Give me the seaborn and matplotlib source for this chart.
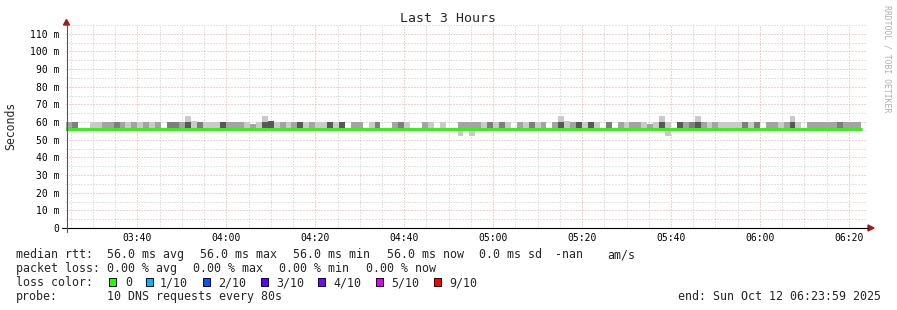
import numpy as np
import pandas as pd
import matplotlib
matplotlib.use("Agg")
import matplotlib.pyplot as plt
import matplotlib.dates as mdates
from matplotlib.lines import Line2D
from matplotlib.patches import Polygon, Rectangle
import seaborn as sns

# ---------------- data ----------------
start_time = "2025-10-12 03:23:59"
end_time = "2025-10-12 06:23:59"
step_seconds = 80
n_steps = 135          # last step not yet measured

# smoke shade level per measured step (0 = all pings equal, 4 = darkest)
smoke_shade = [2, 3, 0, 0, 1, 1, 2, 2, 3, 2,
               1, 2, 1, 2, 1, 2, 0, 3, 3, 2,
               4, 1, 3, 1, 1, 1, 4, 2, 2, 2,
               1, 2, 1, 4, 4, 1, 2, 1, 2, 4,
               1, 2, 1, 1, 4, 1, 4, 0, 2, 2,
               0, 1, 3, 0, 0, 2, 3, 1, 0, 0,
               2, 1, 0, 1, 0, 0, 2, 2, 2, 2,
               1, 3, 1, 3, 1, 0, 2, 1, 3, 1,
               2, 0, 2, 4, 1, 2, 4, 1, 4, 1,
               0, 3, 0, 2, 1, 2, 2, 1, 2, 1,
               4, 1, 0, 4, 2, 3, 4, 2, 1, 2,
               1, 1, 1, 1, 3, 1, 3, 0, 2, 2,
               1, 2, 4, 1, 0, 2, 2, 2, 2, 2,
               3, 2, 2, 2]
median_ms = [56.0] * len(smoke_shade)
smoke_top_ms = 60.0
raised_steps = [21, 34, 84]
raised_top_ms = [60.7, 60.7, 60.7]
lowered_steps = [31, 98]
lowered_top_ms = [59.0, 59.0]
spike_steps = [20, 33, 83, 100, 106, 122]
spike_top_ms = [63.5, 63.5, 63.5, 63.5, 63.5, 63.5]
dip_steps = [66, 68, 101]
dip_bottom_ms = [52.3, 52.3, 52.3]

y_ticks = [0, 10, 20, 30, 40, 50, 60, 70, 80, 90, 100, 110]

loss_labels = ["0", "1/10", "2/10", "3/10", "4/10", "5/10", "9/10"]
loss_colors = ["#26ff00", "#00b8ff", "#0059ff", "#5e00ff", "#7e00ff", "#dd00ff", "#ff0000"]

# ---------------- style ----------------
sns.set_theme(style="white")
plt.rcParams["font.family"] = ["DejaVu Sans Mono", "DejaVu Sans"]
plt.rcParams["lines.scale_dashes"] = False

W, H = 897, 310
fig = plt.figure(figsize=(W / 100, H / 100), dpi=100)
fig.patch.set_facecolor("white")

def fx(x):
    return x / W

def fy(y):
    return 1 - y / H

ax_left, ax_right, ax_bottom, ax_top = 66.2, 866.6, 228.0, 25.0
ax = fig.add_axes([fx(ax_left), fy(ax_bottom), (ax_right - ax_left) / W, (ax_bottom - ax_top) / H])
ax.set_facecolor("white")

t0 = mdates.date2num(pd.Timestamp(start_time))
t1 = mdates.date2num(pd.Timestamp(end_time))
step_d = step_seconds / 86400.0
times = mdates.date2num(pd.date_range(start_time, periods=n_steps, freq=f"{step_seconds}s"))

shade_colors = {1: "#cacaca", 2: "#a4a4a4", 3: "#7e7e7e", 4: "#585858"}
n_meas = len(smoke_shade)
tops = np.full(n_meas, smoke_top_ms)
for s, v in zip(raised_steps, raised_top_ms):
    tops[s] = v
for s, v in zip(lowered_steps, lowered_top_ms):
    tops[s] = v
med = np.array(median_ms)
shade = np.array(smoke_shade)

for lvl, col in shade_colors.items():
    m = shade == lvl
    ax.bar(times[:n_meas][m], tops[m] - med[m], bottom=med[m], width=step_d,
           align="edge", color=col, linewidth=0, zorder=2)

ax.bar(times[spike_steps], np.array(spike_top_ms) - smoke_top_ms, bottom=smoke_top_ms,
       width=step_d, align="edge", color="#cacaca", linewidth=0, zorder=1.9)
ax.bar(times[dip_steps], med[dip_steps] - np.array(dip_bottom_ms), bottom=dip_bottom_ms,
       width=step_d, align="edge", color="#cacaca", linewidth=0, zorder=1.9)

# median line (steps)
line_x = list(times[:n_meas]) + [times[n_meas]]
line_y = list(med) + [med[-1]]
df = pd.DataFrame({"t": line_x, "rtt": line_y})
sns.lineplot(data=df, x="t", y="rtt", ax=ax, drawstyle="steps-post", color="#26ff00",
             linewidth=2.2, estimator=None, zorder=3)

ax.set_xlim(t0, t1)
ax.set_ylim(0, 115)
ax.set_xlabel("")
ax.set_ylabel("")

ax.xaxis.set_major_locator(mdates.MinuteLocator(byminute=[0, 20, 40]))
ax.xaxis.set_minor_locator(mdates.MinuteLocator(byminute=range(0, 60, 5)))
ax.xaxis.set_major_formatter(mdates.DateFormatter("%H:%M"))
ax.set_yticks(y_ticks)
ax.set_yticks(np.arange(5, 116, 5), minor=True)
ax.set_yticklabels(["0" if v == 0 else f"{v} m" for v in y_ticks])

dot = (0, (0.72, 1.44))
ax.grid(which="major", color="#f2a0a0", linestyle=dot, linewidth=0.72, zorder=0)
ax.grid(which="minor", color="#c8c8c8", linestyle=dot, linewidth=0.72, zorder=0)
ax.set_axisbelow(True)
ax.tick_params(which="both", length=0)
ax.tick_params(axis="y", labelsize=7, pad=5, colors="black")
ax.tick_params(axis="x", labelsize=7, pad=3.6, colors="black")
for sp in ax.spines.values():
    sp.set_visible(False)

# axis lines and arrows (figure pixel coords)
fig.add_artist(Line2D([fx(62), fx(868)], [fy(228), fy(228)], color="black", lw=0.8))
fig.add_artist(Line2D([fx(66.5), fx(66.5)], [fy(232), fy(24)], color="#555555", lw=0.8))
arrow_col = "#a01c1c"
fig.add_artist(Polygon([[fx(63.5), fy(25)], [fx(69.5), fy(25)], [fx(66.5), fy(19.5)]],
                       closed=True, color=arrow_col, transform=fig.transFigure))
fig.add_artist(Polygon([[fx(868), fy(225)], [fx(868), fy(231)], [fx(874), fy(228)]],
                       closed=True, color=arrow_col, transform=fig.transFigure))

# texts
fig.text(fx(448), fy(19), "Last 3 Hours", ha="center", va="center", fontsize=9.5)
fig.text(fx(11), fy(126), "Seconds", ha="center", va="center", rotation=90, fontsize=8.3)
fig.text(fx(887), fy(5), "RRDTOOL / TOBI OETIKER", ha="center", va="top", rotation=270,
         fontsize=5.9, color="#b0b0b0")

fs = 8.35
def lt(x, y, s, **kw):
    fig.text(fx(x), fy(y), s, ha=kw.pop("ha", "left"), va="center", fontsize=fs, **kw)

lt(16, 254.5, "median rtt:")
for x, s in zip([107, 200, 293, 387, 479, 555, 607],
                ["56.0 ms avg", "56.0 ms max", "56.0 ms min", "56.0 ms now", "0.0 ms sd", "-nan", "am/s"]):
    lt(x, 254.5, s)
lt(16, 268.5, "packet loss:")
for x, s in zip([107, 193, 279, 366], ["0.00 % avg", "0.00 % max", "0.00 % min", "0.00 % now"]):
    lt(x, 268.5, s)
lt(16, 282.5, "loss color:")
box_x = [109, 146, 203, 261, 318, 376, 434]
lab_x = [125, 160, 218, 276, 333, 391, 449]
for bx, tx, lab, col in zip(box_x, lab_x, loss_labels, loss_colors):
    fig.add_artist(Rectangle((fx(bx), fy(286)), 7 / W, 8 / H, facecolor=col, edgecolor="black",
                             linewidth=0.7, transform=fig.transFigure))
    lt(tx, 282.5, lab)
lt(16, 296.5, "probe:")
lt(107, 296.5, "10 DNS requests every 80s")
lt(881, 296.5, "end: Sun Oct 12 06:23:59 2025", ha="right")

fig.savefig("out.png", dpi=100, facecolor="white")
